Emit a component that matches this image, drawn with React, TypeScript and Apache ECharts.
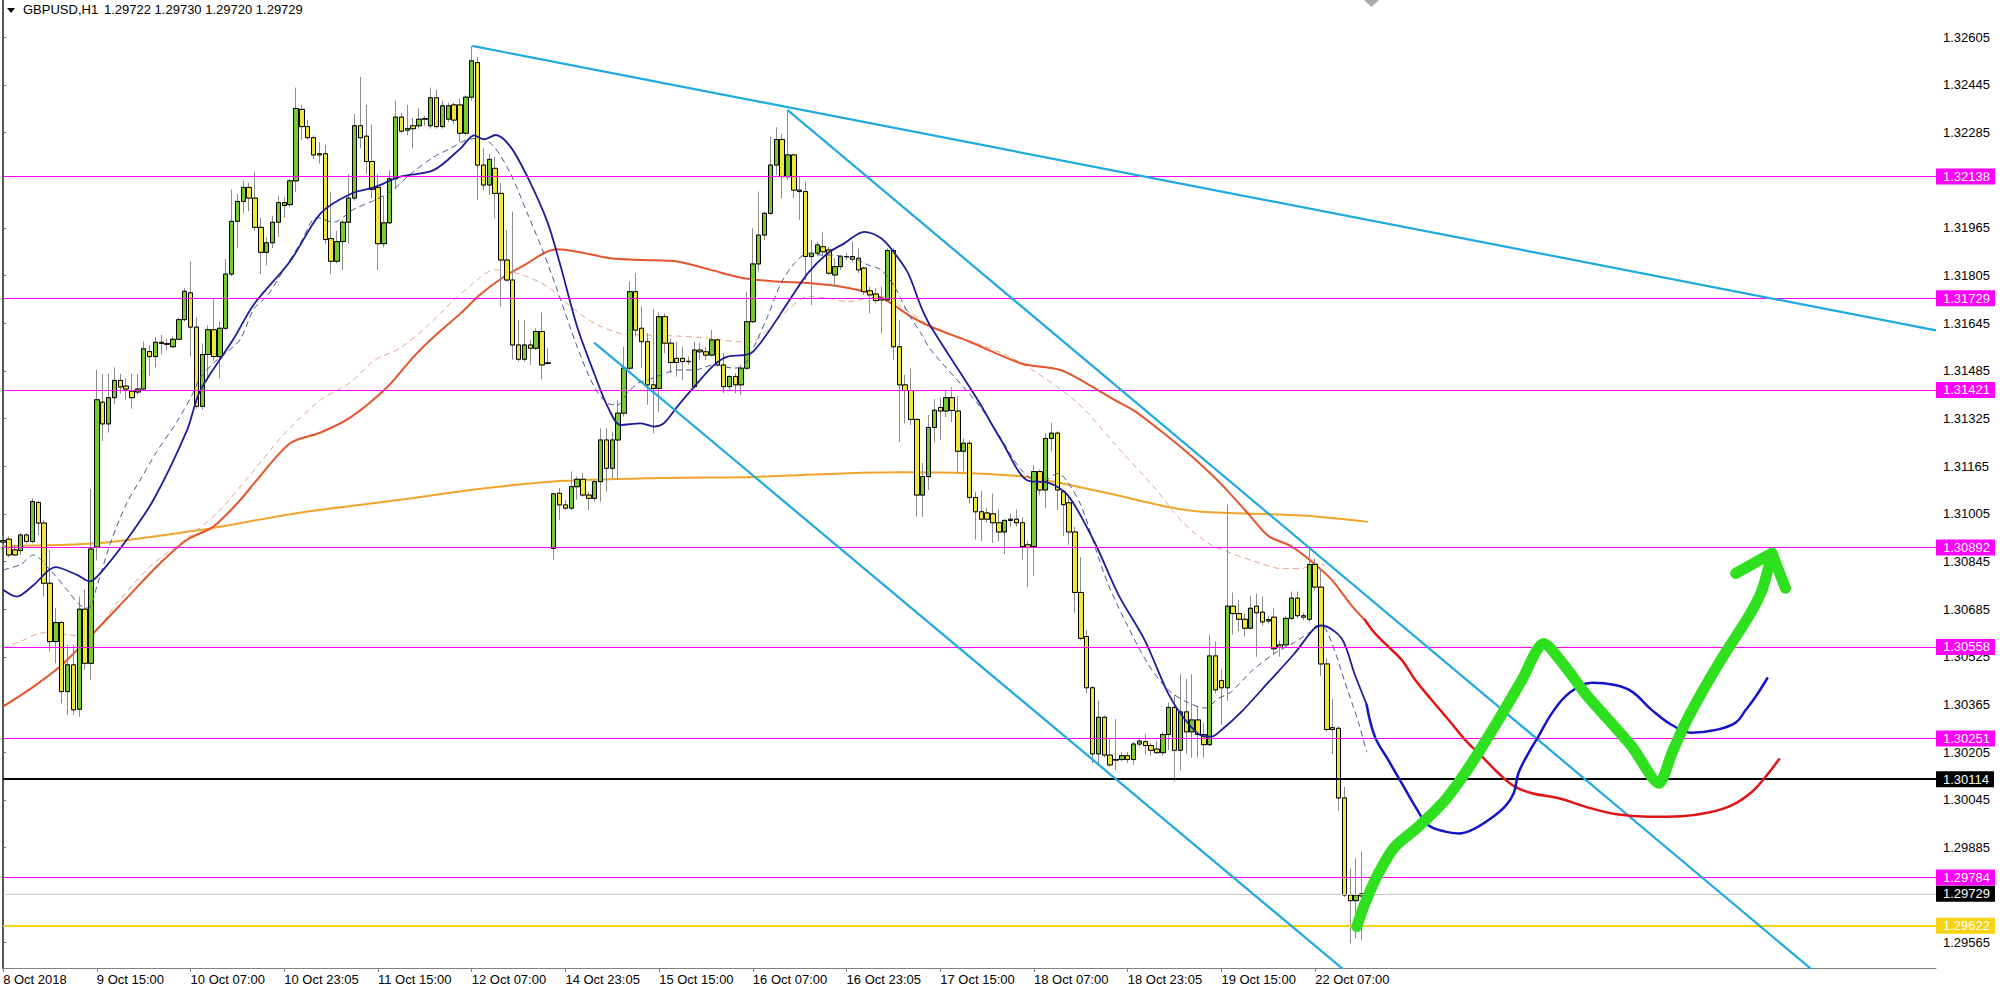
import React, { useEffect, useRef } from 'react';
import * as echarts from 'echarts';

const TIME_LABELS = ['8 Oct 2018', '9 Oct 15:00', '10 Oct 07:00', '10 Oct 23:05', '11 Oct 15:00', '12 Oct 07:00', '14 Oct 23:05', '15 Oct 15:00', '16 Oct 07:00', '16 Oct 23:05', '17 Oct 15:00', '18 Oct 07:00', '18 Oct 23:05', '19 Oct 15:00', '22 Oct 07:00'];
const BARS_PER_LABEL = 16;
const SLOT_COUNT = 331;

const Y_MIN = 1.294801;
const Y_MAX = 1.327302;
const Y_TICKS = [1.29565, 1.29885, 1.30045, 1.30205, 1.30365, 1.30525, 1.30685, 1.30845, 1.31005, 1.31165, 1.31325, 1.31485, 1.31645, 1.31805, 1.31965, 1.32285, 1.32445, 1.32605];

// [open, high, low, close]
const OHLC: number[][] = [
  [1.30910, 1.30930, 1.30895, 1.30915], [1.30920, 1.30929, 1.30859, 1.30867], [1.30884, 1.30901, 1.30864, 1.30867], [1.30882, 1.30940, 1.30867, 1.30934],
  [1.30934, 1.30940, 1.30906, 1.30912], [1.30912, 1.31057, 1.30906, 1.31046], [1.31043, 1.31050, 1.30934, 1.30974], [1.30974, 1.30985, 1.30727, 1.30772],
  [1.30772, 1.30884, 1.30543, 1.30576], [1.30576, 1.30688, 1.30503, 1.30640], [1.30640, 1.30645, 1.30369, 1.30408], [1.30408, 1.30565, 1.30330, 1.30498],
  [1.30498, 1.30565, 1.30330, 1.30347], [1.30349, 1.30727, 1.30324, 1.30685], [1.30685, 1.30750, 1.30481, 1.30503], [1.30503, 1.31088, 1.30447, 1.30887],
  [1.30893, 1.31489, 1.30849, 1.31388], [1.31380, 1.31475, 1.31249, 1.31307], [1.31307, 1.31475, 1.31278, 1.31395], [1.31395, 1.31497, 1.31373, 1.31453],
  [1.31453, 1.31475, 1.31409, 1.31431], [1.31434, 1.31460, 1.31388, 1.31424], [1.31417, 1.31475, 1.31358, 1.31395], [1.31414, 1.31475, 1.31405, 1.31424],
  [1.31424, 1.31584, 1.31417, 1.31559], [1.31550, 1.31570, 1.31468, 1.31533], [1.31533, 1.31599, 1.31497, 1.31581], [1.31581, 1.31606, 1.31540, 1.31577],
  [1.31577, 1.31592, 1.31555, 1.31574], [1.31566, 1.31599, 1.31562, 1.31591], [1.31591, 1.31664, 1.31588, 1.31657], [1.31657, 1.31763, 1.31650, 1.31752],
  [1.31747, 1.31853, 1.31533, 1.31632], [1.31632, 1.31664, 1.31358, 1.31366], [1.31366, 1.31577, 1.31355, 1.31540], [1.31540, 1.31638, 1.31453, 1.31623],
  [1.31623, 1.31725, 1.31519, 1.31533], [1.31533, 1.31650, 1.31460, 1.31628], [1.31628, 1.31861, 1.31620, 1.31810], [1.31810, 1.32094, 1.31803, 1.31987],
  [1.31987, 1.32079, 1.31897, 1.32054], [1.32054, 1.32123, 1.32014, 1.32101], [1.32101, 1.32116, 1.32021, 1.32065], [1.32065, 1.32152, 1.31955, 1.31967],
  [1.31967, 1.31999, 1.31810, 1.31883], [1.31883, 1.31934, 1.31839, 1.31915], [1.31915, 1.32006, 1.31897, 1.31984], [1.31984, 1.32072, 1.31934, 1.32050],
  [1.32040, 1.32069, 1.31999, 1.32050], [1.32043, 1.32130, 1.32035, 1.32123], [1.32123, 1.32436, 1.32086, 1.32366], [1.32363, 1.32378, 1.32261, 1.32305],
  [1.32305, 1.32327, 1.32261, 1.32268], [1.32268, 1.32276, 1.32196, 1.32210], [1.32214, 1.32254, 1.32181, 1.32210], [1.32214, 1.32244, 1.31912, 1.31926],
  [1.31929, 1.32086, 1.31810, 1.31853], [1.31853, 1.31955, 1.31846, 1.31919], [1.31919, 1.31992, 1.31824, 1.31984], [1.31984, 1.32145, 1.31912, 1.32065],
  [1.32065, 1.32348, 1.32057, 1.32308], [1.32308, 1.32472, 1.32232, 1.32268], [1.32273, 1.32378, 1.32145, 1.32188], [1.32188, 1.32312, 1.32065, 1.32094],
  [1.32101, 1.32145, 1.31824, 1.31912], [1.31912, 1.32072, 1.31900, 1.31982], [1.31982, 1.32159, 1.31977, 1.32130], [1.32130, 1.32392, 1.32094, 1.32337],
  [1.32337, 1.32351, 1.32283, 1.32290], [1.32293, 1.32378, 1.32276, 1.32299], [1.32308, 1.32334, 1.32232, 1.32298], [1.32308, 1.32366, 1.32298, 1.32330],
  [1.32330, 1.32341, 1.32308, 1.32332], [1.32308, 1.32436, 1.32298, 1.32402], [1.32402, 1.32429, 1.32298, 1.32305], [1.32305, 1.32392, 1.32298, 1.32375],
  [1.32330, 1.32385, 1.32320, 1.32375], [1.32378, 1.32385, 1.32312, 1.32327], [1.32378, 1.32399, 1.32254, 1.32283], [1.32283, 1.32410, 1.32276, 1.32404],
  [1.32404, 1.32576, 1.32392, 1.32526], [1.32520, 1.32538, 1.32059, 1.32176], [1.32176, 1.32232, 1.32092, 1.32109], [1.32109, 1.32215, 1.32076, 1.32195],
  [1.32165, 1.32204, 1.31997, 1.32081], [1.32081, 1.32115, 1.31701, 1.31857], [1.31857, 1.31958, 1.31785, 1.31790], [1.31790, 1.32020, 1.31522, 1.31572],
  [1.31572, 1.31656, 1.31516, 1.31524], [1.31524, 1.31656, 1.31516, 1.31572], [1.31572, 1.31589, 1.31505, 1.31561], [1.31561, 1.31628, 1.31555, 1.31617],
  [1.31617, 1.31681, 1.31457, 1.31505], [1.31510, 1.31561, 1.31505, 1.31512], [1.30889, 1.31076, 1.30850, 1.31072], [1.31074, 1.31091, 1.30984, 1.31035],
  [1.31035, 1.31052, 1.31018, 1.31024], [1.31024, 1.31147, 1.31018, 1.31096], [1.31096, 1.31130, 1.31052, 1.31121], [1.31121, 1.31141, 1.31063, 1.31068],
  [1.31068, 1.31079, 1.31018, 1.31057], [1.31057, 1.31119, 1.31046, 1.31113], [1.31113, 1.31292, 1.31046, 1.31253], [1.31253, 1.31292, 1.31079, 1.31158],
  [1.31158, 1.31281, 1.31124, 1.31253], [1.31253, 1.31387, 1.31119, 1.31343], [1.31343, 1.31566, 1.31331, 1.31494], [1.31494, 1.31785, 1.31488, 1.31751],
  [1.31751, 1.31813, 1.31600, 1.31622], [1.31628, 1.31701, 1.31494, 1.31583], [1.31583, 1.31611, 1.31371, 1.31438], [1.31438, 1.31692, 1.31275, 1.31426],
  [1.31426, 1.31681, 1.31348, 1.31667], [1.31667, 1.31678, 1.31544, 1.31578], [1.31578, 1.31594, 1.31477, 1.31513], [1.31527, 1.31583, 1.31466, 1.31513],
  [1.31527, 1.31566, 1.31454, 1.31516], [1.31516, 1.31533, 1.31505, 1.31517], [1.31432, 1.31583, 1.31426, 1.31555], [1.31555, 1.31580, 1.31522, 1.31549],
  [1.31549, 1.31566, 1.31522, 1.31538], [1.31538, 1.31622, 1.31533, 1.31589], [1.31589, 1.31594, 1.31499, 1.31505], [1.31505, 1.31544, 1.31410, 1.31432],
  [1.31432, 1.31471, 1.31415, 1.31466], [1.31466, 1.31477, 1.31410, 1.31438], [1.31438, 1.31505, 1.31404, 1.31494], [1.31494, 1.31751, 1.31488, 1.31650],
  [1.31650, 1.31964, 1.31645, 1.31844], [1.31844, 1.32087, 1.31818, 1.31941], [1.31941, 1.32020, 1.31924, 1.32014], [1.32014, 1.32271, 1.32008, 1.32176],
  [1.32176, 1.32303, 1.32143, 1.32262], [1.32262, 1.32280, 1.32064, 1.32137], [1.32137, 1.32361, 1.32126, 1.32210], [1.32210, 1.32215, 1.32064, 1.32092],
  [1.32092, 1.32137, 1.31992, 1.32087], [1.32087, 1.32120, 1.31790, 1.31869], [1.31869, 1.31924, 1.31706, 1.31880], [1.31880, 1.31919, 1.31869, 1.31908],
  [1.31902, 1.31952, 1.31869, 1.31885], [1.31891, 1.31902, 1.31807, 1.31813], [1.31807, 1.31863, 1.31768, 1.31835], [1.31835, 1.31874, 1.31824, 1.31869],
  [1.31869, 1.31880, 1.31857, 1.31868], [1.31869, 1.31919, 1.31852, 1.31860], [1.31863, 1.31896, 1.31813, 1.31824], [1.31830, 1.31835, 1.31740, 1.31751],
  [1.31754, 1.31768, 1.31678, 1.31740], [1.31743, 1.31762, 1.31712, 1.31721], [1.31729, 1.31768, 1.31611, 1.31723], [1.31723, 1.31897, 1.31717, 1.31889],
  [1.31889, 1.31897, 1.31522, 1.31566], [1.31566, 1.31656, 1.31247, 1.31438], [1.31438, 1.31471, 1.31309, 1.31419], [1.31419, 1.31494, 1.31303, 1.31322],
  [1.31322, 1.31326, 1.30996, 1.31068], [1.31068, 1.31175, 1.30995, 1.31130], [1.31130, 1.31337, 1.31085, 1.31295], [1.31295, 1.31390, 1.31245, 1.31353],
  [1.31362, 1.31395, 1.31252, 1.31350], [1.31350, 1.31420, 1.31330, 1.31395], [1.31395, 1.31430, 1.31313, 1.31352], [1.31350, 1.31400, 1.31141, 1.31215],
  [1.31215, 1.31258, 1.31147, 1.31242], [1.31242, 1.31252, 1.31040, 1.31060], [1.31060, 1.31079, 1.30919, 1.31012], [1.31012, 1.31082, 1.30913, 1.30987],
  [1.31008, 1.31024, 1.30975, 1.30987], [1.31005, 1.31073, 1.30907, 1.30975], [1.30975, 1.31020, 1.30913, 1.30944], [1.30944, 1.30987, 1.30870, 1.30983],
  [1.30983, 1.31005, 1.30962, 1.30987], [1.30987, 1.31020, 1.30962, 1.30975], [1.30975, 1.30993, 1.30851, 1.30895], [1.30901, 1.30913, 1.30759, 1.30892],
  [1.30895, 1.31168, 1.30796, 1.31147], [1.31147, 1.31153, 1.31067, 1.31085], [1.31085, 1.31276, 1.31024, 1.31258], [1.31258, 1.31311, 1.31215, 1.31276],
  [1.31276, 1.31282, 1.31018, 1.31085], [1.31079, 1.31085, 1.30931, 1.31036], [1.31042, 1.31061, 1.30901, 1.30944], [1.30944, 1.30962, 1.30673, 1.30741],
  [1.30741, 1.30860, 1.30581, 1.30587], [1.30593, 1.30614, 1.30402, 1.30421], [1.30421, 1.30427, 1.30168, 1.30199], [1.30199, 1.30377, 1.30162, 1.30322],
  [1.30322, 1.30328, 1.30187, 1.30195], [1.30195, 1.30248, 1.30156, 1.30162], [1.30180, 1.30316, 1.30144, 1.30178], [1.30180, 1.30205, 1.30174, 1.30193],
  [1.30193, 1.30205, 1.30168, 1.30180], [1.30180, 1.30239, 1.30162, 1.30232], [1.30232, 1.30254, 1.30224, 1.30242], [1.30240, 1.30267, 1.30199, 1.30227],
  [1.30227, 1.30236, 1.30193, 1.30211], [1.30215, 1.30242, 1.30199, 1.30203], [1.30203, 1.30273, 1.30193, 1.30264], [1.30264, 1.30371, 1.30211, 1.30355],
  [1.30355, 1.30396, 1.30107, 1.30211], [1.30211, 1.30466, 1.30144, 1.30340], [1.30340, 1.30451, 1.30199, 1.30273], [1.30273, 1.30466, 1.30187, 1.30313],
  [1.30313, 1.30359, 1.30187, 1.30264], [1.30264, 1.30304, 1.30187, 1.30230], [1.30230, 1.30599, 1.30224, 1.30528], [1.30528, 1.30577, 1.30402, 1.30414],
  [1.30445, 1.30482, 1.30297, 1.30421], [1.30421, 1.31036, 1.30377, 1.30695], [1.30695, 1.30741, 1.30599, 1.30670], [1.30670, 1.30716, 1.30611, 1.30651],
  [1.30651, 1.30670, 1.30593, 1.30621], [1.30621, 1.30728, 1.30617, 1.30688], [1.30695, 1.30737, 1.30525, 1.30673], [1.30675, 1.30728, 1.30630, 1.30642],
  [1.30645, 1.30661, 1.30636, 1.30650], [1.30658, 1.30688, 1.30531, 1.30552], [1.30556, 1.30580, 1.30525, 1.30565], [1.30565, 1.30661, 1.30560, 1.30654],
  [1.30654, 1.30744, 1.30648, 1.30722], [1.30722, 1.30744, 1.30654, 1.30663], [1.30663, 1.30673, 1.30648, 1.30658], [1.30651, 1.30897, 1.30642, 1.30835],
  [1.30835, 1.30855, 1.30747, 1.30759], [1.30759, 1.30823, 1.30461, 1.30501], [1.30501, 1.30519, 1.30273, 1.30281], [1.30287, 1.30384, 1.30199, 1.30281],
  [1.30285, 1.30291, 1.30008, 1.30051], [1.30051, 1.30088, 1.29719, 1.29725], [1.29725, 1.29815, 1.29563, 1.29706], [1.29706, 1.29848, 1.29580, 1.29725],
  [1.29722, 1.29871, 1.29574, 1.29729],
];

// moving averages: [bar index, price]
const MA_BLUE = [[0, 1.30750], [2.3, 1.30727], [5.2, 1.30766], [8.9, 1.30826], [12.6, 1.30800], [14.8, 1.30778], [16.6, 1.30806], [21.1, 1.30918], [25.7, 1.31053], [31.4, 1.31286], [33.6, 1.31417], [39.3, 1.31591], [42.8, 1.31708], [49.0, 1.31853], [54.2, 1.32014], [59.3, 1.32079], [63.3, 1.32101], [67.8, 1.32137], [73.5, 1.32159], [78.1, 1.32232], [80.4, 1.32276], [82.1, 1.32262], [84.1, 1.32277], [86.6, 1.32238], [89.5, 1.32137], [92.9, 1.31986], [95.2, 1.31835], [98.0, 1.31633], [100.9, 1.31477], [103.2, 1.31365], [105.4, 1.31303], [108.9, 1.31309], [111.1, 1.31298], [112.8, 1.31309], [115.1, 1.31365], [118.0, 1.31432], [121.4, 1.31505], [123.7, 1.31533], [126.5, 1.31538], [128.0, 1.31549], [130.5, 1.31611], [133.9, 1.31712], [137.4, 1.31813], [140.8, 1.31880], [143.6, 1.31913], [147.0, 1.31952], [149.9, 1.31930], [152.2, 1.31880], [154.5, 1.31813], [156.7, 1.31701], [158.4, 1.31633], [166.4, 1.31387], [170.4, 1.31252], [175.0, 1.31116], [178.4, 1.31110], [181.8, 1.31067], [186.4, 1.30907], [190.4, 1.30734], [194.9, 1.30581], [198.9, 1.30402], [201.7, 1.30316], [204.6, 1.30260], [206.3, 1.30257], [208.0, 1.30279], [211.4, 1.30340], [216.0, 1.30439], [220.5, 1.30537], [224.0, 1.30624], [225.1, 1.30630], [228.5, 1.30587], [230.8, 1.30464], [232.8, 1.30365]];
const MA_DASH = [[0, 1.30817], [2.9, 1.30834], [5.2, 1.30867], [8.0, 1.30817], [10.9, 1.30750], [13.1, 1.30699], [14.6, 1.30688], [16.0, 1.30761], [18.3, 1.30906], [21.1, 1.31041], [23.4, 1.31119], [26.2, 1.31213], [29.7, 1.31315], [32.2, 1.31402], [33.6, 1.31460], [35.9, 1.31511], [38.2, 1.31548], [40.5, 1.31591], [42.8, 1.31693], [45.1, 1.31737], [47.9, 1.31824], [50.7, 1.31912], [53.6, 1.32000], [56.4, 1.31984], [59.9, 1.32028], [63.3, 1.32057], [66.1, 1.32086], [69.5, 1.32145], [73.5, 1.32203], [76.4, 1.32232], [79.2, 1.32261], [81.5, 1.32266], [83.8, 1.32238], [86.6, 1.32148], [89.5, 1.32014], [92.3, 1.31880], [95.2, 1.31723], [98.0, 1.31566], [100.9, 1.31432], [103.2, 1.31376], [104.9, 1.31371], [106.6, 1.31410], [108.3, 1.31443], [110.0, 1.31454], [112.3, 1.31471], [115.1, 1.31488], [118.0, 1.31488], [121.4, 1.31505], [124.8, 1.31494], [126.5, 1.31505], [128.2, 1.31566], [130.5, 1.31667], [132.8, 1.31779], [135.1, 1.31846], [137.4, 1.31880], [139.6, 1.31874], [141.3, 1.31874], [143.6, 1.31869], [145.3, 1.31863], [147.6, 1.31841], [149.9, 1.31824], [152.2, 1.31768], [154.5, 1.31678], [156.7, 1.31611], [158.4, 1.31555], [166.4, 1.31375], [169.8, 1.31276], [173.8, 1.31153], [177.2, 1.31110], [180.1, 1.31141], [181.8, 1.31110], [184.1, 1.31030], [186.4, 1.30895], [188.6, 1.30771], [192.1, 1.30624], [195.5, 1.30500], [198.9, 1.30414], [202.3, 1.30371], [205.2, 1.30353], [207.4, 1.30384], [209.7, 1.30408], [213.1, 1.30476], [217.1, 1.30537], [220.5, 1.30574], [223.4, 1.30611], [225.1, 1.30630], [226.8, 1.30574], [229.1, 1.30439], [231.4, 1.30304], [232.8, 1.30205]];
const MA_SALMON = [[0, 1.30554], [2.9, 1.30576], [6.9, 1.30606], [10.9, 1.30599], [14.3, 1.30593], [19.4, 1.30705], [25.1, 1.30828], [31.4, 1.30923], [36.5, 1.31007], [41.6, 1.31122], [47.9, 1.31271], [54.2, 1.31388], [59.3, 1.31446], [63.3, 1.31519], [67.8, 1.31562], [72.4, 1.31635], [76.9, 1.31722], [81.5, 1.31799], [83.8, 1.31824], [86.6, 1.31818], [89.5, 1.31801], [92.9, 1.31768], [96.9, 1.31701], [100.9, 1.31645], [105.4, 1.31611], [110.0, 1.31605], [115.1, 1.31602], [120.8, 1.31594], [125.4, 1.31583], [127.7, 1.31583], [130.5, 1.31622], [133.9, 1.31689], [137.4, 1.31734], [140.8, 1.31729], [144.2, 1.31717], [147.6, 1.31729], [150.5, 1.31734], [153.3, 1.31701], [156.7, 1.31656], [158.4, 1.31633], [171.8, 1.31532], [182.9, 1.31387], [189.8, 1.31239], [196.6, 1.31092], [201.2, 1.30981], [205.7, 1.30907], [209.2, 1.30876], [213.7, 1.30845], [218.3, 1.30821], [221.7, 1.30821], [223.9, 1.30839], [225.7, 1.30833]];
const MA_RED = [[0, 1.30358], [5.2, 1.30425], [9.7, 1.30492], [15.4, 1.30604], [21.1, 1.30722], [26.8, 1.30839], [31.4, 1.30918], [35.9, 1.30962], [40.5, 1.31052], [43.3, 1.31118], [49.0, 1.31242], [54.2, 1.31278], [59.3, 1.31329], [65.6, 1.31431], [70.1, 1.31533], [73.5, 1.31599], [78.1, 1.31678], [81.5, 1.31742], [85.5, 1.31801], [89.5, 1.31846], [92.3, 1.31880], [94.6, 1.31893], [98.0, 1.31885], [103.7, 1.31863], [109.4, 1.31857], [115.1, 1.31852], [120.8, 1.31824], [126.5, 1.31796], [132.2, 1.31785], [137.9, 1.31779], [143.6, 1.31766], [148.2, 1.31745], [151.6, 1.31712], [155.0, 1.31667], [158.4, 1.31633], [165.1, 1.31582], [173.8, 1.31510], [180.5, 1.31488], [184.8, 1.31445], [189.8, 1.31387], [193.2, 1.31350], [198.9, 1.31264], [203.4, 1.31190], [208.0, 1.31104], [212.6, 1.31005], [216.0, 1.30931], [220.0, 1.30895], [223.4, 1.30845], [226.8, 1.30784], [230.2, 1.30698], [232.5, 1.30648]];
const MA_ORANGE = [[0, 1.30897], [16.6, 1.30907], [33.6, 1.30951], [50.7, 1.31009], [67.8, 1.31052], [81.5, 1.31089], [93.5, 1.31113], [112.3, 1.31125], [128.2, 1.31129], [146.5, 1.31143], [153.3, 1.31145], [173.3, 1.31132], [187.5, 1.31079], [198.9, 1.31028], [204.6, 1.31012], [221.7, 1.30999], [233.0, 1.30978]];

// trend lines: [bar index, price]
const TREND_LONG = [[80.1, 1.32576], [330, 1.31621]];
const CHANNEL_UPPER = [[133.9, 1.32361], [312, 1.29422]];
const CHANNEL_LOWER = [[100.9, 1.31580], [232, 1.29423]];

// hand drawn forecast
const GREEN_PATH = [[231.1, 1.29619], [232.5, 1.29697], [234.8, 1.29798], [237.6, 1.29887], [241.6, 1.29954], [246.2, 1.30044], [250.7, 1.30167], [255.3, 1.30313], [259.3, 1.30447], [263.0, 1.30570], [266.7, 1.30492], [270.1, 1.30402], [274.1, 1.30313], [278.1, 1.30223], [282.7, 1.30100], [284.9, 1.30201], [287.2, 1.30302], [290.6, 1.30425], [294.0, 1.30537], [298.0, 1.30660], [300.3, 1.30749], [302.0, 1.30873]];
const GREEN_HEAD = [[295.8, 1.30805], [302.0, 1.30873], [304.3, 1.30755]];
const BLUE_PATH = [[232.8, 1.30363], [234.2, 1.30257], [236.5, 1.30178], [238.8, 1.30100], [241.1, 1.30022], [243.3, 1.29960], [246.2, 1.29938], [248.5, 1.29932], [250.7, 1.29943], [253.6, 1.29977], [256.4, 1.30022], [257.9, 1.30067], [258.7, 1.30134], [260.4, 1.30201], [262.1, 1.30257], [264.4, 1.30335], [267.3, 1.30402], [271.3, 1.30438], [275.2, 1.30430], [278.1, 1.30408], [281.5, 1.30346], [284.9, 1.30296], [288.3, 1.30270], [292.3, 1.30279], [295.8, 1.30304], [297.5, 1.30346], [299.2, 1.30391], [301.2, 1.30453]];
const RED_PATH = [[232.5, 1.30649], [234.2, 1.30604], [236.5, 1.30559], [238.8, 1.30514], [241.1, 1.30447], [243.9, 1.30380], [246.8, 1.30313], [249.6, 1.30246], [252.5, 1.30190], [255.3, 1.30134], [258.1, 1.30089], [261.0, 1.30067], [265.6, 1.30050], [270.1, 1.30022], [275.2, 1.29997], [280.9, 1.29988], [286.6, 1.29990], [291.2, 1.30002], [295.2, 1.30027], [298.6, 1.30072], [300.9, 1.30122], [303.2, 1.30181]];

const MAGENTA_LEVELS = [1.32138, 1.31729, 1.31421, 1.30892, 1.30558, 1.30251, 1.29784];
const BLACK_LEVEL = 1.30114;
const BID_LEVEL = 1.29729;
const GOLD_LEVEL = 1.29622;

const TITLE_SYMBOL = 'GBPUSD,H1';
const TITLE_PRICES = '1.29722 1.29730 1.29720 1.29729';

const FONT = 'Liberation Sans';
const BULL = '#76CB2C';
const BEAR = '#EFE63C';

export default function App() {
  const ref = useRef<HTMLDivElement>(null);
  useEffect(() => {
    if (!ref.current) return;
    const chart = echarts.init(ref.current, null, { renderer: 'svg' });
    const categories = Array.from({ length: SLOT_COUNT }, (_, i) => String(i));
    const isLabel = (i: number) => i % BARS_PER_LABEL === 0 && i / BARS_PER_LABEL < TIME_LABELS.length;
    const wickData = OHLC.map(([o, h, l, c]) => [o, c, l, h]);
    const bodyData = OHLC.map(([o, h, l, c]) => [o, c, Math.min(o, c), Math.max(o, c)]);

    const line = (data: number[][], color: string, width: number, type: any = 'solid', z = 4, smooth: any = 0.3, extra: any = {}) => ({
      type: 'line', xAxisIndex: 1, yAxisIndex: 0, data, symbol: 'none', showSymbol: false, smooth, silent: true,
      lineStyle: { color, width, type, ...extra }, z,
    });

    const levelLabel = (v: number, bg: string) => ({
      show: true, position: 'end', distance: 0, formatter: () => v.toFixed(5), color: '#ffffff',
      fontFamily: FONT, fontSize: 13, lineHeight: 13, backgroundColor: bg, padding: [2, 5, 1, 7],
    });

    const levelLine = (v: number, color: string, width: number, bg: string) => [
      { coord: [0, v], lineStyle: { color, width, type: 'solid' }, label: levelLabel(v, bg) },
      { coord: [SLOT_COUNT - 1, v] },
    ];

    const markData: any[] = [
      ...MAGENTA_LEVELS.map((v) => levelLine(v, '#FF00FF', 1.2, '#FF00FF')),
      levelLine(BID_LEVEL, '#C8C8C8', 1, '#000000'),
      levelLine(BLACK_LEVEL, '#000000', 2, '#000000'),
      levelLine(GOLD_LEVEL, '#F5D312', 2, '#F5D312'),
    ];

    chart.setOption({
      animation: false,
      backgroundColor: '#ffffff',
      grid: { left: 3.15, right: 64, top: 0, bottom: 23, containLabel: false },
      xAxis: [
        {
          type: 'category', data: categories, boundaryGap: false,
          axisLine: { show: true, lineStyle: { color: '#808080', width: 1 } },
          axisTick: { show: true, interval: (i: number) => isLabel(i), length: 4, lineStyle: { color: '#808080' } },
          axisLabel: {
            interval: (i: number) => isLabel(i),
            formatter: (_v: string, i: number) => (isLabel(i) ? TIME_LABELS[i / BARS_PER_LABEL] : ''),
            align: 'left', margin: 5, color: '#000', fontFamily: FONT, fontSize: 13,
          },
          splitLine: { show: false },
        },
        { type: 'value', min: 0, max: SLOT_COUNT - 1, show: false },
      ],
      yAxis: [
        {
          type: 'value', position: 'right', min: Y_MIN, max: Y_MAX,
          splitLine: { show: false },
          axisLine: { show: true, lineStyle: { color: '#9a9a9a', width: 1.5 } },
          axisTick: { show: true, length: 3, customValues: Y_TICKS, lineStyle: { color: '#777' } },
          axisLabel: { customValues: Y_TICKS, formatter: (v: number) => v.toFixed(5), margin: 7, color: '#000', fontFamily: FONT, fontSize: 13 },
        },
        {
          type: 'value', position: 'left', min: Y_MIN, max: Y_MAX,
          splitLine: { show: false }, axisTick: { show: false }, axisLabel: { show: false },
          axisLine: { show: true, lineStyle: { color: '#555', width: 2 } },
        },
      ],
      series: [
        line(MA_ORANGE, '#F2A32A', 2, 'solid', 1, 0.3),
        line(MA_SALMON, '#E6A38C', 1, [6, 4], 1, 0.3),
        line(MA_RED, '#E5542A', 2, 'solid', 1, 0.3),
        {
          type: 'candlestick', xAxisIndex: 0, yAxisIndex: 0, data: wickData, barWidth: 5, z: 2, silent: true,
          itemStyle: { color: BULL, color0: BEAR, borderColor: '#8c8c8c', borderColor0: '#8c8c8c', borderColorDoji: '#8c8c8c', borderWidth: 1 },
        },
        {
          type: 'candlestick', xAxisIndex: 0, yAxisIndex: 0, data: bodyData, barWidth: 5, z: 3, silent: true,
          itemStyle: { color: BULL, color0: BEAR, borderColor: '#000', borderColor0: '#000', borderColorDoji: '#000', borderWidth: 1 },
        },
        {
          type: 'line', xAxisIndex: 1, yAxisIndex: 0, data: [[0, BID_LEVEL]], symbol: 'none', showSymbol: false, silent: true,
          lineStyle: { width: 0, opacity: 0 }, z: 3,
          markLine: { symbol: ['none', 'none'], silent: true, animation: false, precision: 5, data: markData },
        },
        line(MA_DASH, '#4B5691', 1, [6, 4], 4, 0.3),
        line(MA_BLUE, '#1C1C9C', 1.8, 'solid', 4, 0.3),
        line(TREND_LONG, '#1EAAE0', 2.2, 'solid', 6, false),
        line(CHANNEL_UPPER, '#1EAAE0', 2.2, 'solid', 6, false),
        line(CHANNEL_LOWER, '#1EAAE0', 2.2, 'solid', 6, false),
        line(RED_PATH, '#E01414', 2.5, 'solid', 7, 0.4, { cap: 'round', join: 'round' }),
        line(BLUE_PATH, '#1414C8', 2.5, 'solid', 7, 0.4, { cap: 'round', join: 'round' }),
        line(GREEN_PATH, '#2EE01E', 11, 'solid', 9, 0.25, { cap: 'round', join: 'round' }),
        line(GREEN_HEAD, '#2EE01E', 11, 'solid', 9, false, { cap: 'round', join: 'round' }),
      ],
      graphic: [
        { type: 'polygon', shape: { points: [[7, 8], [15, 8], [11, 13]] }, style: { fill: '#000' }, silent: true },
        { type: 'text', left: 23, top: 3, style: { text: TITLE_SYMBOL, fill: '#000', font: `13px "${FONT}"` }, silent: true },
        { type: 'text', left: 104, top: 3, style: { text: TITLE_PRICES, fill: '#000', font: `13px "${FONT}"` }, silent: true },
        { type: 'polygon', shape: { points: [[1364, 0], [1379, 0], [1371.5, 7]] }, style: { fill: '#AAAAAA' }, silent: true },
      ],
    });
    return () => chart.dispose();
  }, []);
  return <div ref={ref} style={{ position: 'fixed', left: 0, top: 0, width: 2000, height: 991, background: '#fff' }} />;
}
